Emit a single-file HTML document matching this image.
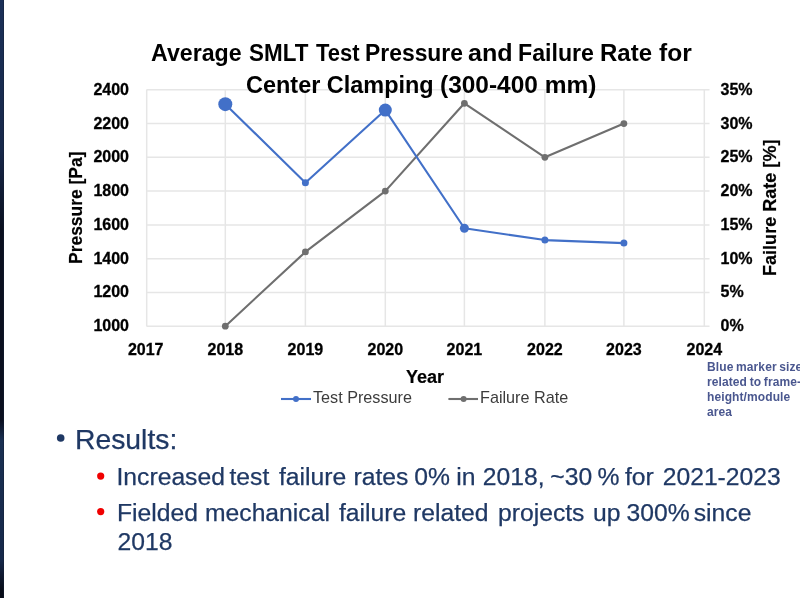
<!DOCTYPE html>
<html><head><meta charset="utf-8"><style>
html,body{margin:0;padding:0;width:800px;height:600px;overflow:hidden;background:#fff;}
body{position:relative;font-family:"Liberation Sans",sans-serif;}
.t{position:absolute;white-space:nowrap;line-height:1;}
.bar{position:absolute;left:0;top:0;width:3px;height:598px;border-right:1px solid rgba(20,30,50,0.45);background:linear-gradient(#1b3058 0px,#17284a 150px,#0a0f1f 230px,#0a0f1f 420px,#1a3052 440px,#16284a 560px,#080c18 590px);}
.title{position:absolute;white-space:nowrap;font-weight:bold;font-size:23px;color:#000;line-height:1;transform-origin:0 0;}
.yl{position:absolute;left:60px;width:69px;text-align:right;font-weight:bold;font-size:16px;line-height:16px;color:#000;-webkit-text-stroke:0.3px #000;}
.rl{position:absolute;left:720.5px;font-weight:bold;font-size:16px;line-height:16px;color:#000;-webkit-text-stroke:0.3px #000;}
.xl{position:absolute;top:342px;width:60px;text-align:center;font-weight:bold;font-size:16px;line-height:16px;color:#000;-webkit-text-stroke:0.3px #000;}
.ann{position:absolute;left:707px;top:360px;font-size:12px;font-weight:bold;line-height:15px;color:#4a578f;white-space:nowrap;letter-spacing:0.1px;word-spacing:-0.8px;}
.navy{color:#1f3864;-webkit-text-stroke:0.25px #1f3864;}
.rot{position:absolute;white-space:nowrap;line-height:1;transform-origin:0 0;font-weight:bold;font-size:18.5px;-webkit-text-stroke:0.2px #000;}
</style></head><body>
<div id="w" style="position:absolute;left:0;top:0;width:800px;height:600px;filter:blur(0.35px)">
<div class="bar"></div>
<svg width="800" height="600" style="position:absolute;left:0;top:0">
<g stroke="#e6e6e6" stroke-width="1.5" fill="none"><line x1="146.5" y1="89.80" x2="709.5" y2="89.80"/><line x1="146.5" y1="123.57" x2="709.5" y2="123.57"/><line x1="146.5" y1="157.34" x2="709.5" y2="157.34"/><line x1="146.5" y1="191.11" x2="709.5" y2="191.11"/><line x1="146.5" y1="224.89" x2="709.5" y2="224.89"/><line x1="146.5" y1="258.66" x2="709.5" y2="258.66"/><line x1="146.5" y1="292.43" x2="709.5" y2="292.43"/><line x1="146.5" y1="326.20" x2="709.5" y2="326.20"/><line x1="146.70" y1="89.8" x2="146.70" y2="326.2"/><line x1="225.30" y1="89.8" x2="225.30" y2="326.2"/><line x1="305.40" y1="89.8" x2="305.40" y2="326.2"/><line x1="385.30" y1="89.8" x2="385.30" y2="326.2"/><line x1="464.40" y1="89.8" x2="464.40" y2="326.2"/><line x1="544.90" y1="89.8" x2="544.90" y2="326.2"/><line x1="623.90" y1="89.8" x2="623.90" y2="326.2"/><line x1="704.30" y1="89.8" x2="704.30" y2="326.2"/></g>
<polyline points="225.30,326.20 305.40,251.90 385.30,191.11 464.40,103.31 544.90,157.34 623.90,123.57" fill="none" stroke="#6f6f6f" stroke-width="2.1" stroke-linejoin="round"/>
<g fill="#6f6f6f"><circle cx="225.30" cy="326.20" r="3.4"/><circle cx="305.40" cy="251.90" r="3.4"/><circle cx="385.30" cy="191.11" r="3.4"/><circle cx="464.40" cy="103.31" r="3.4"/><circle cx="544.90" cy="157.34" r="3.4"/><circle cx="623.90" cy="123.57" r="3.4"/></g>
<polyline points="225.30,104.15 305.40,182.67 385.30,110.06 464.40,228.26 544.90,240.08 623.90,243.12" fill="none" stroke="#4270c8" stroke-width="2.1" stroke-linejoin="round"/>
<g fill="#4270c8"><circle cx="225.30" cy="104.15" r="7"/><circle cx="305.40" cy="182.67" r="3.5"/><circle cx="385.30" cy="110.06" r="6.5"/><circle cx="464.40" cy="228.26" r="4.5"/><circle cx="544.90" cy="240.08" r="3.5"/><circle cx="623.90" cy="243.12" r="3.5"/></g>
<line x1="281" y1="399" x2="311" y2="399" stroke="#4270c8" stroke-width="2.1"/><circle cx="296" cy="399" r="3" fill="#4270c8"/>
<line x1="448.4" y1="399" x2="478" y2="399" stroke="#6f6f6f" stroke-width="2.1"/><circle cx="463.6" cy="399" r="3" fill="#6f6f6f"/>
<circle cx="60.7" cy="438" r="3.8" fill="#1f3864"/>
<circle cx="100.7" cy="476.1" r="3.6" fill="#f00000"/>
<circle cx="100.7" cy="511.6" r="3.6" fill="#f00000"/>
</svg>
<div class="title" style="left:151.29px;top:41.9px;transform:scaleX(1.008)">Average</div><div class="title" style="left:248.53px;top:41.9px;transform:scaleX(0.975)">SMLT</div><div class="title" style="left:316.00px;top:41.9px;transform:scaleX(0.956)">Test</div><div class="title" style="left:365.01px;top:41.9px;transform:scaleX(0.995)">Pressure</div><div class="title" style="left:467.91px;top:41.9px;transform:scaleX(1.092)">and</div><div class="title" style="left:517.99px;top:41.9px;transform:scaleX(1.007)">Failure</div><div class="title" style="left:600.41px;top:41.9px;transform:scaleX(1.043)">Rate</div><div class="title" style="left:658.50px;top:41.9px;transform:scaleX(1.067)">for</div>
<div class="title" style="left:246px;top:73.9px;transform:scaleX(1.02)">Center Clamping</div><div class="title" style="left:440px;top:73.9px;transform:scaleX(1.063)">(300-400 mm)</div>
<div class="yl" style="top:81.8px">2400</div><div class="yl" style="top:115.6px">2200</div><div class="yl" style="top:149.3px">2000</div><div class="yl" style="top:183.1px">1800</div><div class="yl" style="top:216.9px">1600</div><div class="yl" style="top:250.7px">1400</div><div class="yl" style="top:284.4px">1200</div><div class="yl" style="top:318.2px">1000</div><div class="rl" style="top:81.8px">35%</div><div class="rl" style="top:115.6px">30%</div><div class="rl" style="top:149.3px">25%</div><div class="rl" style="top:183.1px">20%</div><div class="rl" style="top:216.9px">15%</div><div class="rl" style="top:250.7px">10%</div><div class="rl" style="top:284.4px">5%</div><div class="rl" style="top:318.2px">0%</div><div class="xl" style="left:115.7px">2017</div><div class="xl" style="left:195.3px">2018</div><div class="xl" style="left:275.4px">2019</div><div class="xl" style="left:355.3px">2020</div><div class="xl" style="left:434.4px">2021</div><div class="xl" style="left:514.9px">2022</div><div class="xl" style="left:593.9px">2023</div><div class="xl" style="left:674.3px">2024</div>
<div class="rot" style="left:66.5px;top:264px;transform:rotate(-90deg) scaleX(0.943)">Pressure [Pa]</div>
<div class="rot" style="left:761px;top:276px;transform:rotate(-90deg) scaleX(0.976)">Failure Rate [%]</div>
<div class="t" style="left:406px;top:368px;font-weight:bold;font-size:18px;-webkit-text-stroke:0.2px #000;">Year</div>
<div class="t" style="left:313px;top:389.2px;font-size:16.2px;color:#3c3c3c;">Test Pressure</div>
<div class="t" style="left:480px;top:389.2px;font-size:16.2px;color:#3c3c3c;">Failure Rate</div>
<div class="ann">Blue marker size<br>related to frame-<br>height/module<br>area</div>
<div class="t navy" style="left:75px;top:425.7px;font-size:27.6px;transform-origin:0 0;transform:scaleX(1.026)">Results:</div>
<div class="t navy" style="left:116.50px;top:464.9px;font-size:24.7px;">Increased</div><div class="t navy" style="left:229.50px;top:464.9px;font-size:24.7px;">test</div><div class="t navy" style="left:279.00px;top:464.9px;font-size:24.7px;">failure</div><div class="t navy" style="left:353.50px;top:464.9px;font-size:24.7px;">rates</div><div class="t navy" style="left:414.25px;top:464.9px;font-size:24.7px;">0%</div><div class="t navy" style="left:456.25px;top:464.9px;font-size:24.7px;">in</div><div class="t navy" style="left:482.75px;top:464.9px;font-size:24.7px;">2018,</div><div class="t navy" style="left:550.25px;top:464.9px;font-size:24.7px;">~30</div><div class="t navy" style="left:597.50px;top:464.9px;font-size:24.7px;">%</div><div class="t navy" style="left:625.00px;top:464.9px;font-size:24.7px;">for</div><div class="t navy" style="left:662.70px;top:464.9px;font-size:24.7px;">2021-2023</div>
<div class="t navy" style="left:117.00px;top:501.4px;font-size:24.7px;">Fielded</div><div class="t navy" style="left:205.00px;top:501.4px;font-size:24.7px;">mechanical</div><div class="t navy" style="left:339.00px;top:501.4px;font-size:24.7px;">failure</div><div class="t navy" style="left:413.00px;top:501.4px;font-size:24.7px;">related</div><div class="t navy" style="left:498.00px;top:501.4px;font-size:24.7px;">projects</div><div class="t navy" style="left:593.00px;top:501.4px;font-size:24.7px;">up</div><div class="t navy" style="left:626.50px;top:501.4px;font-size:24.7px;">300%</div><div class="t navy" style="left:693.75px;top:501.4px;font-size:24.7px;">since</div>
<div class="t navy" style="left:117.5px;top:529.6px;font-size:24.7px;">2018</div>
</div>
</body></html>
